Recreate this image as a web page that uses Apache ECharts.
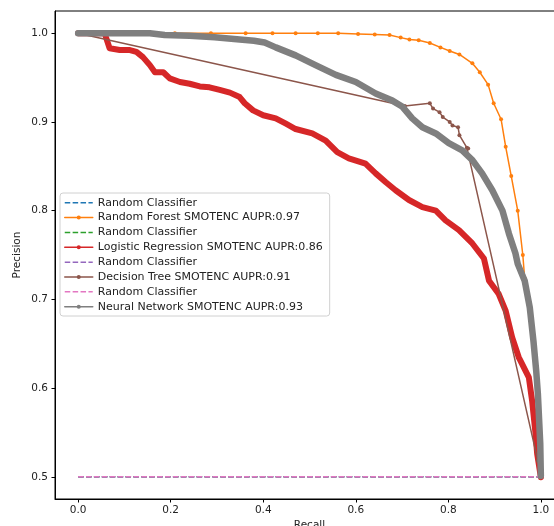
<!DOCTYPE html>
<html>
<head>
<meta charset="utf-8">
<script src="https://cdn.jsdelivr.net/npm/echarts@6/dist/echarts.min.js"></script>
<style>
  html, body { margin: 0; padding: 0; background: #fff; overflow: hidden; }
  /* the original figure is cropped on the right, so the canvas runs past the window */
  #chart { width: 580px; height: 526px; }
</style>
</head>
<body>
<div id="chart"></div>
<script>
// tick labels
var xTicks = [0, 0.2, 0.4, 0.6, 0.8, 1.0];
var yTicks = [0.5, 0.6, 0.7, 0.8, 0.9, 1.0];

// random classifier baseline
var rcRecall = [0, 1];
var rcPrecision = [0.5, 0.5];

// Random Forest
var rfRecall = [0, 0.209, 0.287, 0.362, 0.420, 0.470, 0.518, 0.562, 0.605, 0.641, 0.673, 0.697,
  0.716, 0.736, 0.760, 0.783, 0.803, 0.824, 0.852, 0.868, 0.886, 0.898, 0.914, 0.924, 0.936,
  0.950, 0.961, 0.965, 0.976, 0.984, 0.990, 0.9987, 1.0];
var rfPrecision = [1.0, 1.0, 1.0, 1.0, 1.0, 1.0, 1.0, 1.0, 0.999, 0.9985, 0.998, 0.995,
  0.993, 0.992, 0.989, 0.984, 0.980, 0.976, 0.966, 0.956, 0.942, 0.921, 0.903, 0.872, 0.839,
  0.800, 0.750, 0.7235, 0.691, 0.653, 0.619, 0.537, 0.501];

// Logistic Regression
var lrRecall = [0, 0.058, 0.060, 0.068, 0.090, 0.112, 0.126, 0.140, 0.155, 0.166, 0.184, 0.198,
  0.220, 0.241, 0.263, 0.284, 0.306, 0.328, 0.349, 0.360, 0.378, 0.400, 0.427, 0.449, 0.470,
  0.506, 0.535, 0.560, 0.585, 0.621, 0.643, 0.665, 0.686, 0.715, 0.744, 0.773, 0.794, 0.823,
  0.852, 0.877, 0.888, 0.909, 0.924, 0.938, 0.952, 0.974, 0.981, 0.9886, 0.992, 1.0];
var lrPrecision = [1.0, 1.0, 0.9955, 0.983, 0.981, 0.981, 0.979, 0.973, 0.964, 0.956, 0.956, 0.949,
  0.945, 0.943, 0.940, 0.939, 0.936, 0.933, 0.928, 0.921, 0.913, 0.9075, 0.904, 0.898, 0.892,
  0.887, 0.879, 0.866, 0.859, 0.853, 0.842, 0.832, 0.823, 0.812, 0.804, 0.800, 0.789, 0.778,
  0.763, 0.746, 0.721, 0.706, 0.687, 0.657, 0.635, 0.612, 0.586, 0.548, 0.526, 0.4995];

// Decision Tree
var dtRecall = [0, 0.706, 0.760, 0.767, 0.781, 0.788, 0.803, 0.809, 0.821, 0.824, 0.840, 0.843, 0.9935, 1.0];
var dtPrecision = [1.0, 0.918, 0.921, 0.915, 0.911, 0.9055, 0.900, 0.896, 0.894, 0.885, 0.871, 0.870, 0.518, 0.5];

// Neural Network
var nnRecall = [0, 0.155, 0.187, 0.241, 0.295, 0.349, 0.380, 0.403, 0.427, 0.470, 0.513, 0.557, 0.600,
  0.643, 0.679, 0.701, 0.722, 0.744, 0.773, 0.801, 0.830, 0.852, 0.873, 0.895, 0.917, 0.931,
  0.945, 0.950, 0.965, 0.976, 0.984, 0.990, 0.9935, 0.9987, 1.0];
var nnPrecision = [1.0, 1.0, 0.998, 0.997, 0.9955, 0.993, 0.9915, 0.9895, 0.984, 0.975, 0.964, 0.953, 0.945,
  0.932, 0.924, 0.917, 0.904, 0.894, 0.887, 0.876, 0.868, 0.857, 0.842, 0.823, 0.800, 0.774,
  0.752, 0.740, 0.721, 0.691, 0.653, 0.619, 0.594, 0.537, 0.501];

function zip(xs, ys) {
  return xs.map(function (x, i) { return [x, ys[i]]; });
}

var FONT = 'DejaVu Sans';
var ZW = '\u200b'; // keeps the four baseline legend rows apart

function baseline(name, color) {
  return {
    name: name, type: 'line', data: zip(rcRecall, rcPrecision),
    symbol: 'none', lineStyle: { color: color, width: 1.5, type: [5.5, 2.4] },
    itemStyle: { color: color, opacity: 0 }
  };
}

function curve(name, color, xs, ys, width, dots) {
  return {
    name: name, type: 'line', data: zip(xs, ys),
    symbol: 'circle', symbolSize: 4, showSymbol: dots, showAllSymbol: true,
    lineStyle: { color: color, width: width, cap: 'round', join: 'round' },
    itemStyle: { color: color }
  };
}

var series = [
  baseline('Random Classifier', '#1f77b4'),
  curve('Random Forest SMOTENC AUPR:0.97', '#ff7f0e', rfRecall, rfPrecision, 1.5, true),
  baseline('Random Classifier' + ZW, '#2ca02c'),
  curve('Logistic Regression SMOTENC AUPR:0.86', '#d62728', lrRecall, lrPrecision, 6, false),
  baseline('Random Classifier' + ZW + ZW, '#9467bd'),
  curve('Decision Tree SMOTENC AUPR:0.91', '#8c564b', dtRecall, dtPrecision, 1.5, true),
  baseline('Random Classifier' + ZW + ZW + ZW, '#e377c2'),
  curve('Neural Network SMOTENC AUPR:0.93', '#7f7f7f', nnRecall, nnPrecision, 6.5, false)
];
// draw in plotting order, later series fully on top (dots included)
series.forEach(function (s, i) { s.z = 2 + i; });

var chart = echarts.init(document.getElementById('chart'));
chart.setOption({
  animation: false,
  grid: { left: 55, top: 11, width: 509, height: 488, outerBoundsMode: 'none',
    show: true, borderColor: '#000', borderWidth: 1 },
  legend: {
    orient: 'vertical', left: 60, top: 193, z: 20,
    padding: [3.7, 7, 3.3, 4],
    itemWidth: 28, itemHeight: 5, itemGap: 2.86,
    backgroundColor: 'rgba(255,255,255,0.85)', borderColor: '#d0d0d0', borderWidth: 1, borderRadius: 3,
    lineStyle: { width: 1.5 },
    textStyle: { fontFamily: FONT, fontSize: 11, lineHeight: 12, color: '#222' },
    formatter: function (name) { return name.replace(/\u200b/g, ''); },
    data: series.map(function (s) { return s.name; })
  },
  xAxis: {
    type: 'value', min: -0.05, max: 1.05,
    name: 'Recall', nameLocation: 'middle', nameGap: 21, nameMoveOverlap: false,
    nameTextStyle: { fontFamily: FONT, fontSize: 10.5, color: '#222' },
    axisLine: { show: true, onZero: false, lineStyle: { color: '#000', width: 1 } },
    axisTick: { show: true, length: 3.5, customValues: xTicks, lineStyle: { color: '#000' } },
    axisLabel: { customValues: xTicks, margin: 6, fontFamily: FONT, fontSize: 10.5, color: '#222',
      formatter: function (v) { return v.toFixed(1); } },
    splitLine: { show: false }
  },
  yAxis: {
    type: 'value', min: 0.475, max: 1.025,
    name: 'Precision', nameLocation: 'middle', nameGap: 32, nameMoveOverlap: false,
    nameTextStyle: { fontFamily: FONT, fontSize: 10.5, color: '#222' },
    axisLine: { show: true, onZero: false, lineStyle: { color: '#000', width: 1 } },
    axisTick: { show: true, length: 3.5, customValues: yTicks, lineStyle: { color: '#000' } },
    axisLabel: { customValues: yTicks, margin: 7, fontFamily: FONT, fontSize: 10.5, color: '#222',
      formatter: function (v) { return v.toFixed(1); } },
    splitLine: { show: false }
  },
  series: series
});
</script>
</body>
</html>
